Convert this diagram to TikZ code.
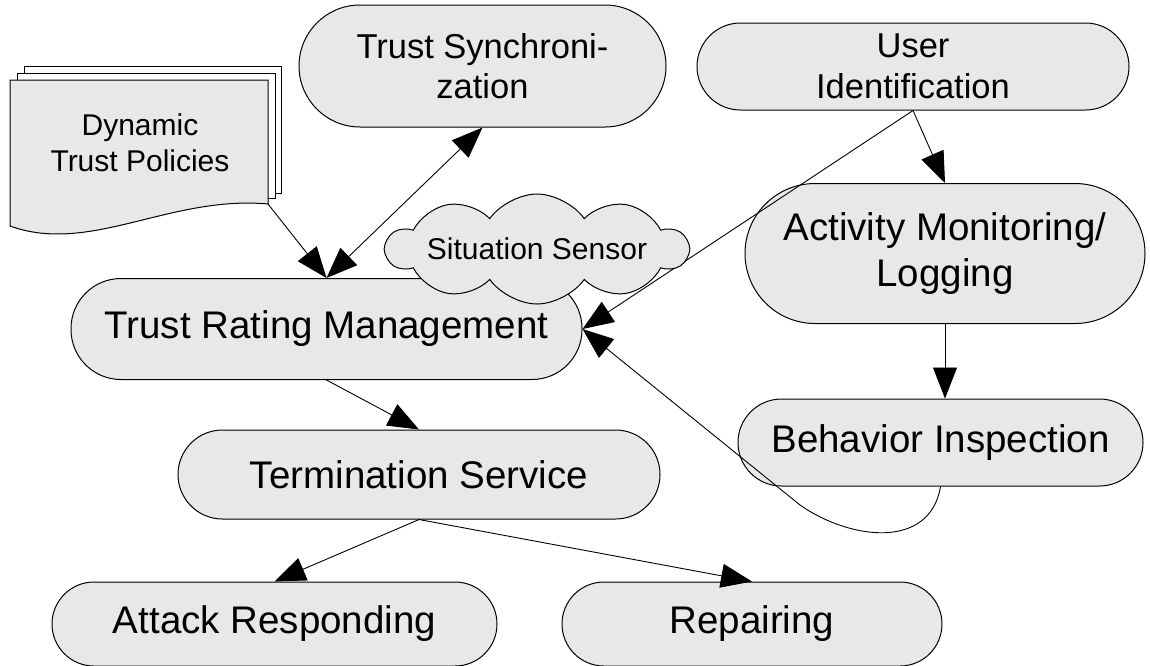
\documentclass[tikz,border=0pt]{standalone}
\usepackage{fontspec}
\setmainfont{Liberation Sans}
\usetikzlibrary{arrows.meta,shapes.symbols}
\definecolor{boxgray}{HTML}{E8E8E8}
\begin{document}
\begin{tikzpicture}[x=1pt,y=-1pt,
  term/.style={draw=black,line width=1pt,fill=boxgray,inner sep=0pt,align=center},
  big/.style={font=\fontsize{38.5}{46}\selectfont},
  mid/.style={font=\fontsize{34.5}{40.5}\selectfont},
  conn/.style={line width=0.9pt,-{Triangle[length=31pt,width=24pt]}},
  conntwo/.style={line width=0.9pt,{Triangle[length=31pt,width=24pt]}-{Triangle[length=31pt,width=24pt]}},
  page/.style={draw=black,line width=1pt}
]
\useasboundingbox (0,0) rectangle (1150,665);
\clip (0,0) rectangle (1150,665);
\fill[white] (0,0) rectangle (1150,665);

% document stack
\draw[page,fill=white] (24,66) rectangle (281,193);
\draw[page,fill=white] (17,73) rectangle (275,198);
\draw[page,fill=boxgray] (10,80) -- (268,80) -- (268,204) .. controls (170,195) and (90,255) .. (10,226) -- cycle;
\node[font=\fontsize{30}{36}\selectfont,align=center,inner sep=0pt] (doc) at (140,143) {Dynamic\\Trust Policies};
\coordinate (docc) at (268,204);

% terminator nodes
\node[term,mid,minimum width=367pt,minimum height=122pt,rounded corners=61pt] (sync) at (482.5,66) {Trust Synchroni-\\zation};
\node[term,mid,minimum width=432pt,minimum height=87pt,rounded corners=43.5pt] (user) at (913,66.5) {User\\Identification};
\node[term,big,minimum width=400pt,minimum height=140pt,rounded corners=70pt] (act) at (945,253.5) {Activity Monitoring/\\Logging};
\node[term,big,minimum width=405pt,minimum height=87pt,rounded corners=43.5pt] (bi) at (940.5,442.5) {Behavior Inspection};
\node[term,big,minimum width=511pt,minimum height=101pt,rounded corners=50pt] (trm) at (326.5,329) {Trust Rating Management};
\node[term,big,minimum width=482pt,minimum height=89pt,rounded corners=44.5pt] (ts) at (419,474.5) {Termination Service};
\node[term,big,minimum width=445pt,minimum height=84pt,rounded corners=42pt] (ar) at (274.5,624) {Attack Responding};
\node[term,big,minimum width=380pt,minimum height=84pt,rounded corners=42pt] (rep) at (752,624) {Repairing};

% connectors
\draw[conn] (docc) -- (trm.north);
\draw[conntwo] (sync.south) -- (trm.north);
\draw[conn] (user.south) -- (act.north);
\draw[conn] (user.south) -- (trm.east);
\draw[conn] (act.south) -- (act.south |- bi.north);
\draw[conn] (bi.south) .. controls (930,550) and (850,540) .. (800,505) -- (trm.east);
\draw[conn] (trm.south) -- (ts.north);
\draw[conn] (ts.south) -- (ar.north);
\draw[conn] (ts.south) -- (rep.north);

% cloud
\node[cloud,cloud puffs=10,cloud puff arc=110,cloud ignores aspect,draw,line width=1pt,fill=boxgray,minimum width=300pt,minimum height=110pt,inner sep=0pt,font=\fontsize{30}{36}\selectfont] (sens) at (537,249) {Situation Sensor};
\end{tikzpicture}
\end{document}
